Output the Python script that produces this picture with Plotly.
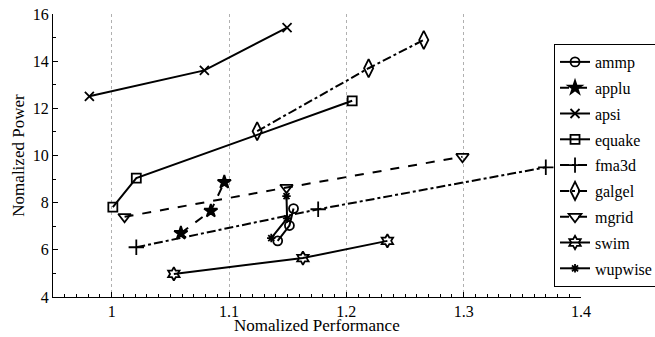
import plotly.graph_objects as go

names = ["ammp", "applu", "apsi", "equake", "fma3d", "galgel", "mgrid", "swim", "wupwise"]
perf = {
    "ammp":    [1.1415, 1.1515, 1.155],
    "applu":   [1.059, 1.0845, 1.096],
    "apsi":    [0.981, 1.079, 1.1495],
    "equake":  [1.001, 1.021, 1.205],
    "fma3d":   [1.021, 1.176, 1.370],
    "galgel":  [1.124, 1.219, 1.266],
    "mgrid":   [1.011, 1.149, 1.299],
    "swim":    [1.053, 1.163, 1.235],
    "wupwise": [1.136, 1.1495, 1.149],
}
power = {
    "ammp":    [6.38, 7.03, 7.75],
    "applu":   [6.71, 7.65, 8.87],
    "apsi":    [12.51, 13.61, 15.42],
    "equake":  [7.81, 9.04, 12.32],
    "fma3d":   [6.11, 7.72, 9.50],
    "galgel":  [11.03, 13.70, 14.90],
    "mgrid":   [7.40, 8.64, 9.95],
    "swim":    [4.98, 5.65, 6.38],
    "wupwise": [6.50, 7.33, 8.28],
}
x_ticks = [1.0, 1.1, 1.2, 1.3, 1.4]
x_labels = ["1", "1.1", "1.2", "1.3", "1.4"]
y_ticks = [4, 6, 8, 10, 12, 14, 16]
x_title = "Nomalized Performance"
y_title = "Nomalized Power"

styles = {
    "ammp":    dict(dash="solid", symbol="circle-open", size=9),
    "applu":   dict(dash="dash", symbol="star", size=10),
    "apsi":    dict(dash="solid", symbol="x-thin-open", size=9),
    "equake":  dict(dash="solid", symbol="square-open", size=9),
    "fma3d":   dict(dash="dashdot", symbol="cross-thin-open", size=11),
    "galgel":  dict(dash="dashdot", symbol="diamond-tall-open", size=13),
    "mgrid":   dict(dash="dash", symbol="triangle-down-open", size=11),
    "swim":    dict(dash="solid", symbol="hexagram-open", size=10),
    "wupwise": dict(dash="solid", symbol="asterisk-open", size=7),
}

fig = go.Figure()
for n in names:
    s = styles[n]
    fig.add_trace(go.Scatter(
        x=perf[n], y=power[n], name=n, mode="lines+markers", legendgroup=n,
        line=dict(color="black", width=2, dash=s["dash"]),
        marker=dict(symbol=s["symbol"], size=s["size"], color="black",
                    line=dict(color="black", width=1.8)),
    ))

font = "Liberation Serif, DejaVu Serif, serif"
fig.update_layout(
    width=655, height=337,
    margin=dict(l=53, r=74, t=14, b=40, autoexpand=False),
    paper_bgcolor="white", plot_bgcolor="white",
    font=dict(family=font, size=16, color="black"),
    showlegend=True,
    legend=dict(x=0.9489, y=0.894, xanchor="left", yanchor="top",
                bordercolor="black", borderwidth=1, bgcolor="white",
                font=dict(size=16, family=font, color="black"), tracegroupgap=2,
                itemwidth=30),
    xaxis=dict(range=[0.95, 1.4], tickvals=x_ticks, ticktext=x_labels,
               tickfont=dict(family=font, size=16, color="black"),
               showline=True, linecolor="black", linewidth=1,
               ticks="inside", ticklen=5, tickcolor="black",
               showgrid=True, gridcolor="#b0b0b0", griddash="dot", gridwidth=1,
               zeroline=False,
               minor=dict(dtick=0.01, tick0=0.95, ticks="inside", ticklen=3,
                          tickcolor="black", showgrid=False),
               automargin=False),
    yaxis=dict(range=[4, 16], tickvals=y_ticks,
               tickfont=dict(family=font, size=16, color="black"),
               showline=True, linecolor="black", linewidth=1,
               ticks="inside", ticklen=5, tickcolor="black",
               showgrid=False, zeroline=False,
               minor=dict(dtick=1, tick0=4, ticks="inside", ticklen=3,
                          tickcolor="black", showgrid=False),
               automargin=False),
    annotations=[
        dict(text=x_title, xref="paper", yref="paper", x=0.5, y=-0.102,
             xanchor="center", yanchor="middle", showarrow=False,
             font=dict(size=17, family=font)),
        dict(text=y_title, xref="paper", yref="paper", x=-0.066, y=0.5,
             xanchor="center", yanchor="middle", showarrow=False, textangle=-90,
             font=dict(size=17, family=font)),
    ],
)

fig.write_html("out.html", config={"displayModeBar": False},
               post_script="document.body.style.margin='0';")
